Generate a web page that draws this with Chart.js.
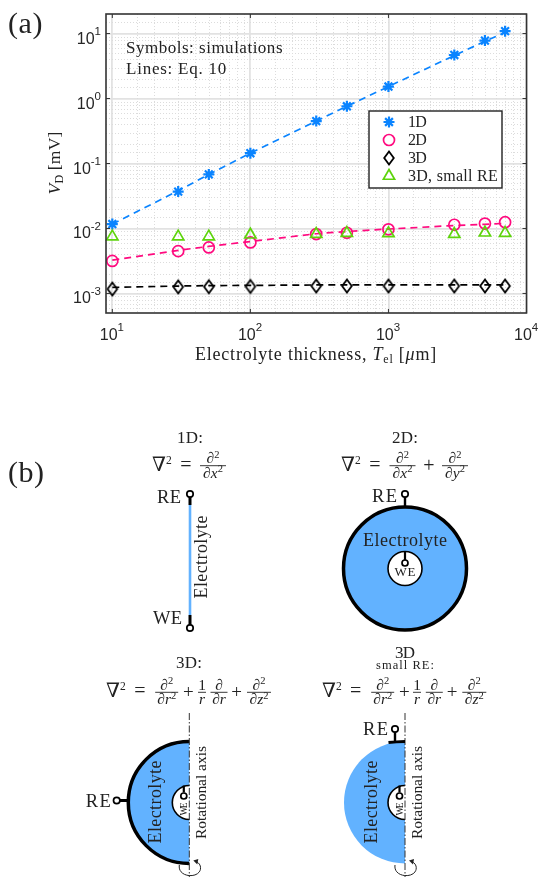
<!DOCTYPE html>
<html>
<head>
<meta charset="utf-8">
<title>Electrolyte thickness</title>
<script src="https://cdn.jsdelivr.net/npm/chart.js@4/dist/chart.umd.js"></script>
<style>
  html, body { margin: 0; padding: 0; background: #fff; width: 539px; height: 877px; overflow: hidden; }
  #chartCanvas { position: absolute; left: 0; top: 0; }
  #schem { position: absolute; left: 0; top: 0; }
</style>
</head>
<body>
<canvas id="chartCanvas" width="539" height="370"></canvas>
<svg id="schem" width="539" height="877" viewBox="0 0 539 877"></svg>
<script>
// values
const thickness = [10, 30, 50, 100, 300, 500, 1000, 3000, 5000, 7000];
const sim1D = [0.0117, 0.037, 0.068, 0.144, 0.45, 0.76, 1.53, 4.68, 7.8, 10.9];
const sim2D = [0.00317, 0.00448, 0.0051, 0.0061, 0.0082, 0.0086, 0.0097, 0.0114, 0.0119, 0.0125];
const sim3D = [0.00117, 0.00126, 0.00127, 0.00128, 0.0013, 0.0013, 0.0013, 0.0013, 0.0013, 0.0013];
const simSmallRE = [0.0075, 0.0075, 0.0075, 0.008, 0.0082, 0.0085, 0.0084, 0.0082, 0.0086, 0.0085];
const line1D = [0.0117, 0.038, 0.068, 0.144, 0.45, 0.76, 1.53, 4.6, 7.6, 10.4];
const line2D = [0.00325, 0.0046, 0.0053, 0.0063, 0.0083, 0.009, 0.0098, 0.0111, 0.0116, 0.012];
const line3D = [0.00124, 0.0013, 0.00132, 0.00133, 0.00135, 0.00135, 0.00135, 0.00135, 0.00135, 0.00135];
const seriesNames = ["1D", "2D", "3D", "3D, small RE"];
const xTickValues = [10, 100, 1000, 10000];
const xTickExps = ["1", "2", "3", "4"];
const yTickValues = [0.001, 0.01, 0.1, 1, 10];
const yTickExps = ["-3", "-2", "-1", "0", "1"];

const SERIF = "'Liberation Serif', serif";
const SANS = "'Liberation Sans', sans-serif";
const BLUE = "#0a84ff";
const PINK = "#ff0a7f";
const GREEN = "#5ed40c";
const INK = "#222";
const FILL = "#62b2ff";

function toPoints(ys) {
  return thickness.map((x, i) => ({ x, y: ys[i] }));
}

function isDecade(v) {
  const l = Math.log10(v);
  return Math.abs(l - Math.round(l)) < 1e-6;
}

// narrow matlab style diamond
function diamondMarker() {
  const c = document.createElement("canvas");
  c.width = 14;
  c.height = 18;
  const g = c.getContext("2d");
  g.strokeStyle = "#000";
  g.lineWidth = 1.8;
  g.beginPath();
  g.moveTo(7, 2.5);
  g.lineTo(11.8, 9);
  g.lineTo(7, 15.5);
  g.lineTo(2.2, 9);
  g.closePath();
  g.stroke();
  return c;
}

const diamond = diamondMarker();

function markerSet(label, ys, style, color, radius, width, order) {
  return {
    label, data: toPoints(ys), showLine: false, order, clip: false,
    pointStyle: style, pointRadius: radius, pointHoverRadius: radius,
    pointBorderColor: color, pointBackgroundColor: "transparent", pointBorderWidth: width
  };
}

function fitLine(label, ys, color, order) {
  return {
    label, data: toPoints(ys), showLine: true, order, pointRadius: 0,
    borderColor: color, borderWidth: 1.7, borderDash: [7, 5], backgroundColor: "transparent"
  };
}

// text with a fixed overall width, the serif font runs narrower than the original one
function drawRuns(ctx, x, y, runs, target, rotate) {
  ctx.save();
  ctx.translate(x, y);
  if (rotate) ctx.rotate(-Math.PI / 2);
  ctx.fillStyle = INK;
  ctx.textBaseline = "alphabetic";
  ctx.textAlign = "left";
  let total = 0, chars = 0;
  ctx.letterSpacing = "0px";
  runs.forEach(r => {
    ctx.font = r.font;
    total += ctx.measureText(r.text).width;
    chars += r.text.length;
  });
  const ls = (target - total) / chars;
  ctx.letterSpacing = ls + "px";
  let cx = -target / 2;
  runs.forEach(r => {
    ctx.font = r.font;
    ctx.fillText(r.text, cx, r.dy || 0);
    cx += ctx.measureText(r.text).width;
  });
  ctx.restore();
}

// base and exponent, drawn left to right from x
function drawPower(ctx, x, y, exp) {
  ctx.fillStyle = "#262626";
  ctx.textAlign = "left";
  ctx.textBaseline = "alphabetic";
  ctx.font = "16px " + SANS;
  ctx.fillText("10", x, y);
  const w = ctx.measureText("10").width;
  ctx.font = "11.5px " + SANS;
  ctx.fillText(exp, x + w, y - 8.6);
  return w + ctx.measureText(exp).width;
}

const plotDecor = {
  id: "plotDecor",
  beforeDatasetsDraw(chart) {
    const { ctx, chartArea: a, scales } = chart;
    ctx.save();
    ctx.strokeStyle = "#dcdcdc";
    ctx.lineWidth = 1;
    ctx.setLineDash([1, 2]);
    scales.x.ticks.forEach(t => {
      if (isDecade(t.value) || t.value === scales.x.min) return;
      const p = Math.round(scales.x.getPixelForValue(t.value)) + 0.5;
      ctx.beginPath(); ctx.moveTo(p, a.top); ctx.lineTo(p, a.bottom); ctx.stroke();
    });
    scales.y.ticks.forEach(t => {
      if (isDecade(t.value) || t.value === scales.y.min || t.value === scales.y.max) return;
      const p = Math.round(scales.y.getPixelForValue(t.value)) + 0.5;
      ctx.beginPath(); ctx.moveTo(a.left, p); ctx.lineTo(a.right, p); ctx.stroke();
    });
    ctx.restore();
  },
  afterDatasetsDraw(chart) {
    const { ctx, chartArea: a, scales } = chart;
    ctx.save();
    // box and inward ticks
    ctx.strokeStyle = "#333";
    ctx.lineWidth = 1;
    xTickValues.forEach(v => {
      const p = scales.x.getPixelForValue(v);
      ctx.beginPath();
      ctx.moveTo(p, a.top); ctx.lineTo(p, a.top + 4);
      ctx.moveTo(p, a.bottom); ctx.lineTo(p, a.bottom - 4);
      ctx.stroke();
    });
    yTickValues.forEach(v => {
      const p = scales.y.getPixelForValue(v);
      ctx.beginPath();
      ctx.moveTo(a.left, p); ctx.lineTo(a.left + 4, p);
      ctx.moveTo(a.right, p); ctx.lineTo(a.right - 4, p);
      ctx.stroke();
    });
    ctx.lineWidth = 1.6;
    ctx.strokeRect(a.left, a.top, a.right - a.left, a.bottom - a.top);

    // tick labels with raised exponents
    xTickValues.forEach((v, i) => {
      drawPower(ctx, scales.x.getPixelForValue(v) - 12.5, 340, xTickExps[i]);
    });
    yTickValues.forEach((v, i) => {
      ctx.font = "11.5px " + SANS;
      const ew = ctx.measureText(yTickExps[i]).width;
      ctx.font = "16px " + SANS;
      const bw = ctx.measureText("10").width;
      drawPower(ctx, 101 - ew - bw, scales.y.getPixelForValue(v) + 10, yTickExps[i]);
    });

    // legend
    ctx.fillStyle = "#fff";
    ctx.fillRect(369, 111, 133, 77);
    ctx.strokeStyle = "#222";
    ctx.lineWidth = 1.4;
    ctx.strokeRect(369, 111, 133, 77);
    const rows = [122, 140, 158, 176];
    chart.data.datasets.filter(d => !d.showLine).forEach((d, i) => {
      ctx.save();
      ctx.strokeStyle = d.pointBorderColor;
      ctx.fillStyle = "transparent";
      ctx.lineWidth = d.pointBorderWidth;
      Chart.helpers.drawPoint(ctx, { pointStyle: d.pointStyle, radius: d.pointRadius, rotation: 0, borderWidth: d.pointBorderWidth }, 389, rows[i]);
      ctx.restore();
      const w = [18, 18, 18, 90][i];
      drawRuns(ctx, 408 + w / 2, rows[i] + 5, [{ text: d.label, font: "16px " + SERIF }], w);
    });

    // labels in the plot
    drawRuns(ctx, 204.5, 53, [{ text: "Symbols: simulations", font: "17px " + SERIF }], 157);
    drawRuns(ctx, 176.5, 74, [{ text: "Lines: Eq. 10", font: "17px " + SERIF }], 101);
    drawRuns(ctx, 25.5, 33, [{ text: "(a)", font: "30px " + SERIF }], 35);
    drawRuns(ctx, 316, 360, [
      { text: "Electrolyte thickness, ", font: "18px " + SERIF },
      { text: "T", font: "italic 18px " + SERIF },
      { text: "el", font: "12px " + SERIF, dy: 2.5 },
      { text: " [", font: "18px " + SERIF },
      { text: "μ", font: "italic 18px " + SERIF },
      { text: "m]", font: "18px " + SERIF }
    ], 242);
    drawRuns(ctx, 60, 163, [
      { text: "V", font: "italic 17.5px " + SERIF },
      { text: "D", font: "12px " + SERIF, dy: 2.5 },
      { text: " [mV]", font: "17.5px " + SERIF }
    ], 63, true);
    ctx.restore();
  }
};

const chartInstance = new Chart(document.getElementById("chartCanvas").getContext("2d"), {
  type: "scatter",
  plugins: [plotDecor],
  data: {
    datasets: [
      fitLine("Eq. 10, 1D", line1D, BLUE, 8),
      fitLine("Eq. 10, 2D", line2D, PINK, 7),
      fitLine("Eq. 10, 3D", line3D, "#000", 6),
      markerSet(seriesNames[0], sim1D, "star", BLUE, 5.5, 2.2, 4),
      markerSet(seriesNames[1], sim2D, "circle", PINK, 5.5, 1.7, 3),
      markerSet(seriesNames[2], sim3D, diamond, "#000", 7, 1.8, 2),
      markerSet(seriesNames[3], simSmallRE, "triangle", GREEN, 6.5, 1.7, 1)
    ]
  },
  options: {
    responsive: false,
    animation: false,
    devicePixelRatio: 1,
    layout: { padding: { left: 0, top: 14, right: 12.5, bottom: 0 } },
    plugins: { legend: { display: false }, tooltip: { enabled: false }, title: { display: false } },
    scales: {
      x: {
        type: "logarithmic",
        min: 9,
        max: 10000,
        border: { display: false },
        grid: {
          drawTicks: false,
          lineWidth: 1.8,
          color: c => (c.tick && isDecade(c.tick.value) ? "#e2e2e2" : "transparent")
        },
        ticks: { display: false, autoSkip: false, maxRotation: 0 },
        afterFit: s => { s.height = 57; s.paddingLeft = 0; s.paddingRight = 0; }
      },
      y: {
        type: "logarithmic",
        min: 0.0005,
        max: 20,
        border: { display: false },
        grid: {
          drawTicks: false,
          lineWidth: 1.8,
          color: c => (c.tick && isDecade(c.tick.value) ? "#e2e2e2" : "transparent")
        },
        ticks: { display: false, autoSkip: false },
        afterFit: s => { s.width = 106; s.paddingTop = 0; s.paddingBottom = 0; }
      }
    }
  }
});

// ----- part (b), the schematic drawings -----
function txt(x, y, s, size, width, opts = {}) {
  const anchor = opts.anchor || "middle";
  const rot = opts.rot ? ` transform="rotate(-90 ${x} ${y})"` : "";
  const fit = width ? ` textLength="${width}" lengthAdjust="spacing"` : "";
  return `<text x="${x}" y="${y}" font-size="${size}" text-anchor="${anchor}"${fit}${rot}>${s}</text>`;
}

function frac(cx, barY, w, num, den) {
  return txt(cx, barY - 2.5, num, 15.5) + txt(cx, barY + 12, den, 15.5) +
    `<line x1="${cx - w / 2}" x2="${cx + w / 2}" y1="${barY}" y2="${barY}" stroke="${INK}" stroke-width="0.9"/>`;
}

const sup = s => `<tspan dy="-5.5" font-size="10.5" font-style="normal">${s}</tspan>`;
const d2 = `<tspan font-style="italic">∂</tspan>${sup(2)}`;
const dv = v => `<tspan font-style="italic">∂${v}</tspan>${sup(2)}`;
const nabla = (x, y) => `<text x="${x}" y="${y}" font-size="20" font-family="'DejaVu Serif'">∇<tspan dy="-7" font-size="11.5" font-family="'Liberation Serif'">2</tspan></text>`;

function pin(cx, cy, r = 3.2) {
  return `<circle cx="${cx}" cy="${cy}" r="${r}" fill="#fff" stroke="#000" stroke-width="1.7"/>`;
}

function blackLine(x1, y1, x2, y2, w = 3) {
  return `<line x1="${x1}" y1="${y1}" x2="${x2}" y2="${y2}" stroke="#000" stroke-width="${w}"/>`;
}

// half circle shared by both 3D drawings
function halfCell(ax, outline) {
  const cy = 802.5, R = 61, r = 17;
  const stroke = outline ? `stroke="#000" stroke-width="3.5"` : `stroke="none"`;
  return `<path d="M${ax} ${cy - R} A${R} ${R} 0 0 0 ${ax} ${cy + R} Z" fill="${FILL}" stroke="none"/>` +
    `<path d="M${ax} ${cy - R} A${R} ${R} 0 0 0 ${ax} ${cy + R}" fill="none" ${stroke}/>` +
    `<path d="M${ax} ${cy - r} A${r} ${r} 0 0 0 ${ax} ${cy + r} Z" fill="#fff" stroke="none"/>` +
    `<path d="M${ax} ${cy - r} A${r} ${r} 0 0 0 ${ax} ${cy + r}" fill="none" stroke="#000" stroke-width="1.6"/>` +
    blackLine(ax - 5.5, cy - r, ax - 5.5, cy - 10, 2.2) + pin(ax - 5.5, cy - 6.5, 3) +
    txt(ax - 2, 809, "WE", 9.5, 13, { rot: true }) +
    `<line x1="${ax}" x2="${ax}" y1="713" y2="877" stroke="#333" stroke-width="1" stroke-dasharray="7 2 1.5 2"/>` +
    txt(ax - 28, 802, "Electrolyte", 18, 83, { rot: true }) +
    txt(ax + 16.5, 792.5, "Rotational axis", 15.5, 93, { rot: true }) +
    `<path d="M${ax - 10} 865 C${ax - 12} 879 ${ax + 14} 879 ${ax + 11} 866 C${ax + 10} 863 ${ax + 8} 862 ${ax + 6} 861.5" fill="none" stroke="#222" stroke-width="1"/>` +
    `<path d="M${ax + 4} 860.5 L${ax + 9} 859 L${ax + 8} 864.5 Z" fill="#222"/>`;
}

function laplace3D(x0, cF1, p1, cF2, cF3, p2, cF4, eqX) {
  const barY = 692.3;
  return nabla(x0, 696.5) + txt(eqX, 696.5, "=", 20) +
    frac(cF1, barY, 23, d2, dv("r")) + txt(p1, 698, "+", 19) +
    frac(cF2, barY, 8, "1", `<tspan font-style="italic">r</tspan>`) +
    frac(cF3, barY, 17, `<tspan font-style="italic">∂</tspan>`, `<tspan font-style="italic">∂r</tspan>`) +
    txt(p2, 698, "+", 19) + frac(cF4, barY, 24, d2, dv("z"));
}

const schemParts = [
  txt(8, 482, "(b)", 30, 36, { anchor: "start" }),

  // 1D
  txt(190, 443, "1D:", 17, 26),
  nabla(152, 471), txt(186, 471, "=", 20), frac(213, 465.7, 26, d2, dv("x")),
  `<line x1="190" x2="190" y1="505" y2="615" stroke="${FILL}" stroke-width="2.6"/>`,
  blackLine(190, 497, 190, 505), blackLine(190, 615, 190, 625),
  pin(190, 494), pin(190, 628),
  txt(181, 503, "RE", 18.5, 24, { anchor: "end" }),
  txt(182, 624, "WE", 18.5, 29, { anchor: "end" }),
  txt(207, 557, "Electrolyte", 18, 83, { rot: true }),

  // 2D
  txt(405, 443, "2D:", 17, 26),
  nabla(341, 471), txt(375, 471, "=", 20),
  frac(402.5, 465.7, 26, d2, dv("x")), txt(429, 472, "+", 20), frac(455, 465.7, 26, d2, dv("y")),
  `<circle cx="405" cy="568.5" r="61.5" fill="${FILL}" stroke="#000" stroke-width="3.5"/>`,
  blackLine(405, 497, 405, 507, 2.4), pin(405, 494),
  txt(397, 502, "RE", 18.5, 25, { anchor: "end" }),
  txt(405, 546, "Electrolyte", 18, 84),
  `<circle cx="405" cy="568.5" r="17" fill="#fff" stroke="#000" stroke-width="1.6"/>`,
  blackLine(405, 552, 405, 560, 2.2), pin(405, 563, 3),
  txt(405, 576, "WE", 13, 21),

  // 3D
  txt(189, 668, "3D:", 17, 26),
  laplace3D(106, 166.7, 188.3, 202, 219, 236.7, 259, 140),
  halfCell(189.3, true),
  blackLine(128, 800.5, 120, 800.5), pin(116.7, 800.5),
  txt(110.7, 807, "RE", 18.5, 25, { anchor: "end" }),

  // 3D small RE
  txt(405, 658, "3D", 17, 20),
  txt(405, 669, "small RE:", 12.5, 58),
  laplace3D(322, 382.7, 404.3, 417, 434.3, 452, 474.3, 355.7),
  halfCell(405, false),
  `<path d="M388.5 742.5 Q396 741.6 405 741.4" fill="none" stroke="#000" stroke-width="3"/>`,
  blackLine(395, 741, 395, 732, 2.4), pin(395, 729),
  txt(388, 735, "RE", 18.5, 25, { anchor: "end" })
];

const schem = document.getElementById("schem");
schem.setAttribute("font-family", SERIF);
schem.setAttribute("fill", INK);
schem.innerHTML = schemParts.join("");
</script>
</body>
</html>
